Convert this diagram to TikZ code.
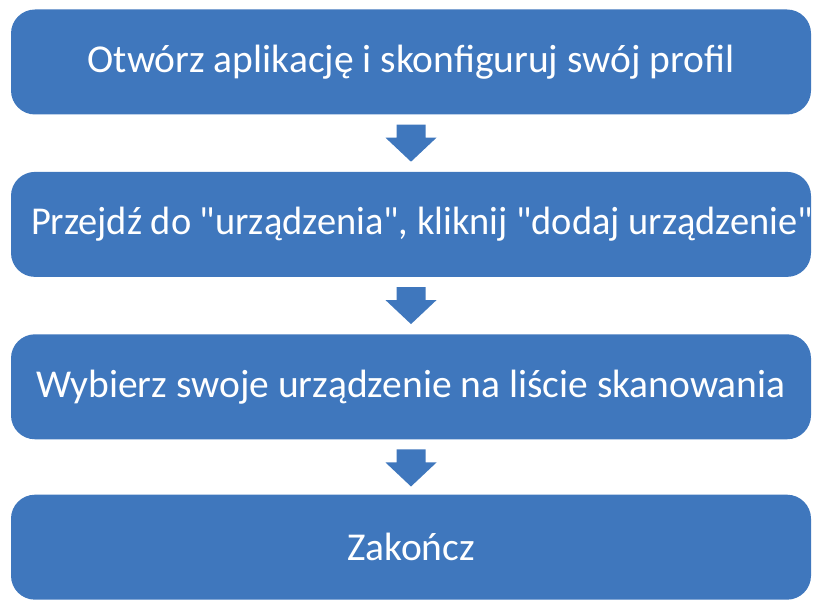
\documentclass[tikz,border=0pt]{standalone}
\usepackage{fontspec}
\setmainfont{Carlito}[Ligatures=TeXOff]
\usetikzlibrary{positioning,calc}
\definecolor{stepblue}{RGB}{63,119,189}
\tikzset{
	stepbox/.style={fill=stepblue, rounded corners=24pt, minimum width=800pt, minimum height=105pt,
		inner sep=0pt, text=white, font=\fontsize{39.5}{44}\selectfont},
	steparrow/.style={fill=stepblue},
}
\begin{document}
\begin{tikzpicture}[x=1pt,y=1pt]
			\useasboundingbox (0,0) rectangle (815,-601);
			\node[stepbox] (open) at (411,-62) {Otwórz aplikację i skonfiguruj swój profil};
			\node[stepbox, below=57pt of open] (add) {\makebox[0pt]{\hspace*{22pt}\scalebox{0.972}[1]{Przejdź do "urządzenia", kliknij "dodaj urządzenie"}}};
			\node[stepbox, below=57pt of add] (pick) {Wybierz swoje urządzenie na liście skanowania};
			\node[stepbox, below=55pt of pick] (done) {Zakończ};
			% block arrows between the steps
			\foreach \a in {open,add,pick}
				\fill[steparrow] ($(\a.south)+(-14.5,-10)$) --++(29,0) --++(0,-13) --++(11,0)
					--($(\a.south)+(0,-47)$) --($(\a.south)+(-25.5,-23)$) --++(11,0) --cycle;
		\end{tikzpicture}
\end{document}
